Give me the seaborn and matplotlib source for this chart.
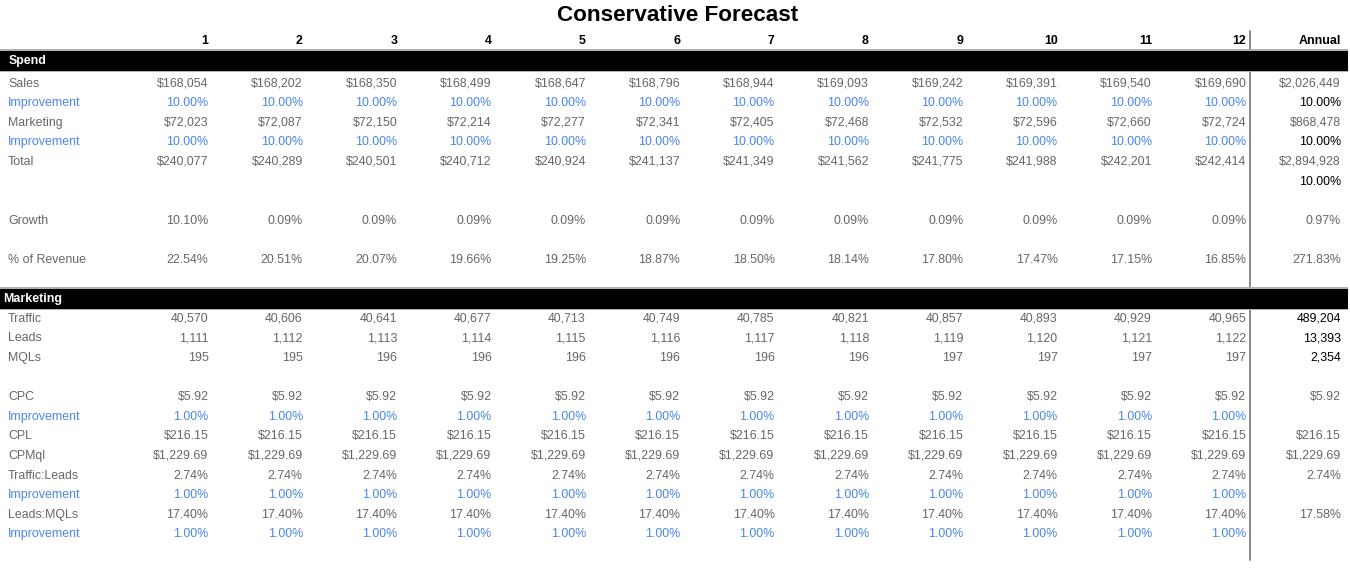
import matplotlib
matplotlib.use("Agg")
import matplotlib.pyplot as plt
import seaborn as sns

sns.set_theme(style="white")
plt.rcParams['font.family'] = ['Liberation Sans', 'DejaVu Sans']

# ---------------- data ----------------
months = ["1", "2", "3", "4", "5", "6", "7", "8", "9", "10", "11", "12"]
sales = ["$168,054", "$168,202", "$168,350", "$168,499", "$168,647", "$168,796",
         "$168,944", "$169,093", "$169,242", "$169,391", "$169,540", "$169,690"]
sales_imp = ["10.00%"] * 12
marketing = ["$72,023", "$72,087", "$72,150", "$72,214", "$72,277", "$72,341",
             "$72,405", "$72,468", "$72,532", "$72,596", "$72,660", "$72,724"]
marketing_imp = ["10.00%"] * 12
total = ["$240,077", "$240,289", "$240,501", "$240,712", "$240,924", "$241,137",
         "$241,349", "$241,562", "$241,775", "$241,988", "$242,201", "$242,414"]
growth = ["10.10%", "0.09%", "0.09%", "0.09%", "0.09%", "0.09%",
          "0.09%", "0.09%", "0.09%", "0.09%", "0.09%", "0.09%"]
pct_revenue = ["22.54%", "20.51%", "20.07%", "19.66%", "19.25%", "18.87%",
               "18.50%", "18.14%", "17.80%", "17.47%", "17.15%", "16.85%"]
traffic = ["40,570", "40,606", "40,641", "40,677", "40,713", "40,749",
           "40,785", "40,821", "40,857", "40,893", "40,929", "40,965"]
leads = ["1,111", "1,112", "1,113", "1,114", "1,115", "1,116",
         "1,117", "1,118", "1,119", "1,120", "1,121", "1,122"]
mqls = ["195", "195", "196", "196", "196", "196",
        "196", "196", "197", "197", "197", "197"]
cpc = ["$5.92"] * 12
cpc_imp = ["1.00%"] * 12
cpl = ["$216.15"] * 12
cpmql = ["$1,229.69"] * 12
traffic_leads = ["2.74%"] * 12
tl_imp = ["1.00%"] * 12
leads_mqls = ["17.40%"] * 12
lm_imp = ["1.00%"] * 12

annual_sales = "$2,026,449"
annual_sales_imp = "10.00%"
annual_marketing = "$868,478"
annual_marketing_imp = "10.00%"
annual_total = "$2,894,928"
annual_extra = "10.00%"
annual_growth = "0.97%"
annual_pct_revenue = "271.83%"
annual_traffic = "489,204"
annual_leads = "13,393"
annual_mqls = "2,354"
annual_cpc = "$5.92"
annual_cpl = "$216.15"
annual_cpmql = "$1,229.69"
annual_traffic_leads = "2.74%"
annual_leads_mqls = "17.58%"

GRAY = "#666666"
BLUE = "#4a86e8"
BLACK = "#000000"

# (row index, label, values, annual value, value colour, annual colour)
rows = [
    (0, "Sales", sales, annual_sales, GRAY, GRAY),
    (1, "Improvement", sales_imp, annual_sales_imp, BLUE, BLACK),
    (2, "Marketing", marketing, annual_marketing, GRAY, GRAY),
    (3, "Improvement", marketing_imp, annual_marketing_imp, BLUE, BLACK),
    (4, "Total", total, annual_total, GRAY, GRAY),
    (5, "", None, annual_extra, GRAY, BLACK),
    (7, "Growth", growth, annual_growth, GRAY, GRAY),
    (9, "% of Revenue", pct_revenue, annual_pct_revenue, GRAY, GRAY),
    (12, "Traffic", traffic, annual_traffic, GRAY, BLACK),
    (13, "Leads", leads, annual_leads, GRAY, BLACK),
    (14, "MQLs", mqls, annual_mqls, GRAY, BLACK),
    (16, "CPC", cpc, annual_cpc, GRAY, GRAY),
    (17, "Improvement", cpc_imp, "", BLUE, BLUE),
    (18, "CPL", cpl, annual_cpl, GRAY, GRAY),
    (19, "CPMql", cpmql, annual_cpmql, GRAY, GRAY),
    (20, "Traffic:Leads", traffic_leads, annual_traffic_leads, GRAY, GRAY),
    (21, "Improvement", tl_imp, "", BLUE, BLUE),
    (22, "Leads:MQLs", leads_mqls, annual_leads_mqls, GRAY, GRAY),
    (23, "Improvement", lm_imp, "", BLUE, BLUE),
]
label_colors = {"Improvement": BLUE}

# ---------------- layout ----------------
W, H = 1350, 569
fig = plt.figure(figsize=(W / 100, H / 100), dpi=100)
ax = fig.add_axes([0, 0, 1, 1])
ax.set_xlim(0, W)
ax.set_ylim(H, 0)
ax.axis("off")

col_x0, col_step = 208.5, 94.35
annual_x = 1341
label_x = 8
row_y0, row_step = 83.5, 19.6
FS = 8.9

def col_x(i):
    return col_x0 + i * col_step

def row_y(r):
    return row_y0 + r * row_step

# title
ax.text(W / 2 + 3, 15, "Conservative Forecast", ha="center", va="center",
        fontsize=16.2, fontweight="bold", color=BLACK)

# header
header_y = 41
for i, m in enumerate(months):
    ax.text(col_x(i), header_y, m, ha="right", va="center", fontsize=FS,
            fontweight="bold", color=BLACK)
ax.text(annual_x, header_y, "Annual", ha="right", va="center", fontsize=FS,
        fontweight="bold", color=BLACK)

# vertical separator
sep_x = 1249.5
ax.plot([sep_x, sep_x], [31, 560], color="#8a8a8a", lw=1.4, zorder=1)

# section bars
def section(y_top, title, tx):
    ax.add_patch(plt.Rectangle((0, y_top - 1.5), 1348, 23, color="#b0b0b0", lw=0, zorder=2))
    ax.add_patch(plt.Rectangle((0, y_top), 1348, 20, color=BLACK, lw=0, zorder=3))
    ax.text(tx, y_top + 10, title, ha="left", va="center", fontsize=FS,
            fontweight="bold", color="white", zorder=4)

section(50.5, "Spend", 9)
section(288.5, "Marketing", 3)

# rows
for r, label, vals, ann, vcol, acol in rows:
    y = row_y(r)
    if label:
        ax.text(label_x, y, label, ha="left", va="center", fontsize=FS,
                color=label_colors.get(label, GRAY))
    if vals is not None:
        for i, v in enumerate(vals):
            ax.text(col_x(i), y, v, ha="right", va="center", fontsize=FS, color=vcol)
    if ann:
        ax.text(annual_x, y, ann, ha="right", va="center", fontsize=FS, color=acol)

fig.savefig("out.png", dpi=100, facecolor="white")
